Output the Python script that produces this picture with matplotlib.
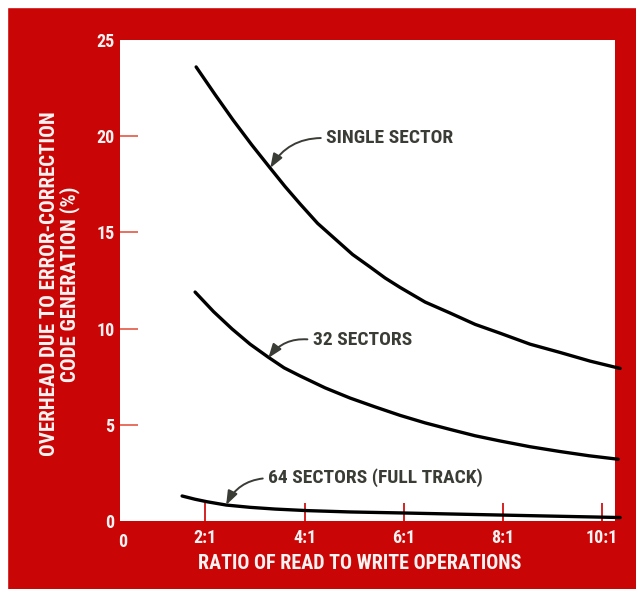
import matplotlib.pyplot as plt
from matplotlib.patches import Rectangle
from matplotlib import font_manager

# curve readings (x = ratio of reads to writes, y = overhead %)
single_x = [1.815, 2.198, 2.560, 2.933, 3.306, 3.609, 3.911, 4.264, 4.617, 4.970, 5.323,
            5.625, 5.927, 6.431, 6.935, 7.440, 7.944, 8.548, 9.153, 9.758, 10.363]
single_y = [23.60, 22.16, 20.84, 19.56, 18.35, 17.38, 16.48, 15.47, 14.66, 13.85, 13.20,
            12.63, 12.14, 11.38, 10.81, 10.22, 9.76, 9.19, 8.76, 8.31, 7.93]

s32_x = [1.794, 2.167, 2.540, 2.903, 3.266, 3.589, 3.911, 4.415, 4.919, 5.423, 5.927,
         6.431, 6.935, 7.440, 7.944, 8.548, 9.153, 9.738, 10.323]
s32_y = [11.90, 10.88, 9.98, 9.19, 8.52, 7.96, 7.54, 6.92, 6.39, 5.93, 5.49,
         5.10, 4.76, 4.43, 4.16, 3.86, 3.61, 3.39, 3.21]

s64_x = [1.532, 1.794, 2.036, 2.419, 2.903, 3.407, 4.052, 4.919, 5.927, 7.944, 10.363]
s64_y = [1.30, 1.13, 1.00, 0.83, 0.71, 0.62, 0.54, 0.47, 0.42, 0.31, 0.18]

x_ticks = [2, 4, 6, 8, 10]
x_labels = ['2:1', '4:1', '6:1', '8:1', '10:1']
y_ticks = [0, 5, 10, 15, 20, 25]

RED = '#c90505'
TXT = '#3a3c36'
WHITE = '#fbf3f3'

# prefer a condensed face, like the original typesetting
installed = {f.name for f in font_manager.fontManager.ttflist}
narrow = [n for n in ['Liberation Sans Narrow', 'DejaVu Sans Condensed', 'Roboto Condensed'] if n in installed]
if narrow:
    FONT = [narrow[0], 'DejaVu Sans']
    k = 1.0
else:
    FONT = ['Liberation Sans', 'DejaVu Sans']
    k = 0.86
plt.rcParams['font.family'] = FONT
plt.rcParams['font.weight'] = 'bold'

fig = plt.figure(figsize=(6.36, 5.89), dpi=100, facecolor=RED)
# thin white margin on top and left like the scan
fig.add_artist(Rectangle((0, 1 - 7/589), 1, 7/589, transform=fig.transFigure, color='white', zorder=0))
fig.add_artist(Rectangle((0, 0), 7/636, 1, transform=fig.transFigure, color='white', zorder=0))

ax = fig.add_axes([120/636, 68/589, 495/636, 481/589])
ax.set_facecolor('white')
for s in ax.spines.values():
    s.set_visible(False)

lw = 2.4
for xs, ys in [(single_x, single_y), (s32_x, s32_y), (s64_x, s64_y)]:
    ax.plot(xs, ys, color='black', lw=lw, solid_capstyle='round', solid_joinstyle='round',
            clip_on=False, zorder=3)

ax.set_xlim(0.28, 10.26)
ax.set_ylim(0, 25)

# labels on major ticks, tick marks on minor ticks
ax.xaxis.remove_overlapping_locs = False
ax.yaxis.remove_overlapping_locs = False
ax.set_xticks(x_ticks)
ax.set_xticklabels(x_labels)
ax.set_yticks(y_ticks)
ax.set_xticks(x_ticks, minor=True)
ax.set_yticks([5, 10, 15, 20], minor=True)
ax.tick_params(axis='both', which='major', length=0, labelcolor=WHITE, labelsize=13 * k)
ax.tick_params(axis='x', which='major', pad=6)
ax.tick_params(axis='y', which='major', pad=4)
ax.tick_params(axis='both', which='minor', labelleft=False, labelbottom=False)
ax.tick_params(axis='x', which='minor', direction='in', length=13, width=1.4, color='#d42424')
ax.tick_params(axis='y', which='minor', direction='in', length=13, width=1.4, color='#e8705e')
ax.text(0.34, -0.024, '0', transform=ax.get_xaxis_transform(), ha='center', va='top',
        color=WHITE, fontsize=13 * k, fontweight='bold')

ax.set_xlabel('RATIO OF READ TO WRITE OPERATIONS', color=WHITE, fontsize=14.5 * k, fontweight='bold', va='center')
ax.xaxis.set_label_coords(0.485, -0.089)
ax.set_ylabel('OVERHEAD DUE TO ERROR-CORRECTION\nCODE GENERATION (%)', color=WHITE, fontsize=15 * k,
              fontweight='bold', va='center', linespacing=1.0)
ax.yaxis.set_label_coords(-0.121, 0.493)

arrow = dict(arrowstyle='-|>,head_length=0.6,head_width=0.22', connectionstyle='arc3,rad=0.3',
             color=TXT, lw=1.4, relpos=(0, 0.5), shrinkA=2, shrinkB=0)
ax.annotate('SINGLE SECTOR', xy=(3.31, 18.35), xytext=(4.44, 19.9), ha='left', va='center',
            fontsize=14 * k, fontweight='bold', color=TXT, arrowprops=arrow)
ax.annotate('32 SECTORS', xy=(3.27, 8.47), xytext=(4.17, 9.41), ha='left', va='center',
            fontsize=14 * k, fontweight='bold', color=TXT, arrowprops=arrow)
ax.annotate('64 SECTORS (FULL TRACK)', xy=(2.42, 0.83), xytext=(3.27, 2.23), ha='left', va='center',
            fontsize=14 * k, fontweight='bold', color=TXT, arrowprops=arrow)

plt.savefig('out.png', dpi=100, facecolor=RED)
